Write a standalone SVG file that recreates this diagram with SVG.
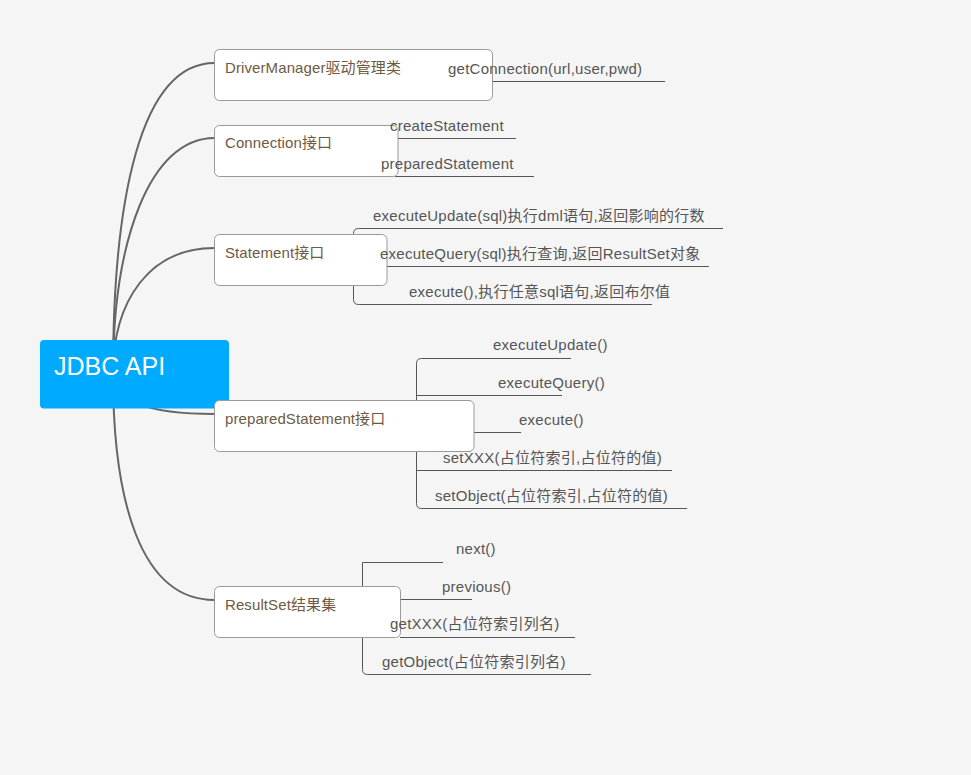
<svg xmlns="http://www.w3.org/2000/svg" width="971" height="775" viewBox="0 0 971 775">
<style>
.bg{fill:#f5f5f5}
.curve{fill:none;stroke:#666;stroke-width:2}
.line{fill:none;stroke:#555;stroke-width:1}
.box{fill:#fff;stroke:#9a9a9a;stroke-width:1}
.ntext{font-family:"Liberation Sans","Noto Sans CJK SC",sans-serif;font-size:15px;fill:#6e5a44;letter-spacing:0.1px}
.ctext{font-family:"Liberation Sans","Noto Sans CJK SC",sans-serif;font-size:15px;fill:#555;letter-spacing:0.25px}
.rtext{font-family:"Liberation Sans","Noto Sans CJK SC",sans-serif;font-size:25px;fill:#fff}
</style>
<rect class="bg" x="0" y="0" width="971" height="775"/>
<g id="connectors">
<path class="curve" d="M113 374 C113 200 140 63 214.5 63"/>
<path class="curve" d="M113 374 C113 240 150 138 214.5 138"/>
<path class="curve" d="M113 374 C113 300 150 248 214.5 248"/>
<path class="curve" d="M113 374 Q113 414 214.5 414"/>
<path class="curve" d="M113 374 C113 500 140 600 214.5 600"/>
<path class="line" d="M492.5 81.5 H665"/>
<path class="line" d="M398 138.5 H516"/>
<path class="line" d="M395 176.5 H534"/>
<path class="line" d="M723 228.5 H358.5 Q353.5 228.5 353.5 233.5 V299.5 Q353.5 304.5 358.5 304.5 H652"/>
<path class="line" d="M387 266.5 H709"/>
<path class="line" d="M571 358.5 H421.5 Q416.5 358.5 416.5 363.5 V503.5 Q416.5 508.5 421.5 508.5 H687"/>
<path class="line" d="M416.5 395.5 H562"/>
<path class="line" d="M474 432.5 H521"/>
<path class="line" d="M416.5 470.5 H672"/>
<path class="line" d="M443 562.5 H362.5 V669.5 Q362.5 674.5 367.5 674.5 H591"/>
<path class="line" d="M400 599.5 H472"/>
<path class="line" d="M400 637.5 H575"/>
</g>
<g id="root">
<rect x="40" y="340" width="189" height="68.5" rx="4" fill="#00aaff"/>
<text class="rtext" x="54" y="375">JDBC API</text>
</g>
<g id="node-driver">
<rect class="box" x="214.5" y="49.5" width="278" height="51" rx="5"/>
<text class="ntext" x="225" y="73">DriverManager驱动管理类</text>
</g>
<g id="node-connection">
<rect class="box" x="214.5" y="125.5" width="183.5" height="51" rx="5"/>
<text class="ntext" x="225" y="148">Connection接口</text>
</g>
<g id="node-statement">
<rect class="box" x="214.5" y="234.5" width="172.5" height="51" rx="5"/>
<text class="ntext" x="225" y="258">Statement接口</text>
</g>
<g id="node-prepared">
<rect class="box" x="214.5" y="400.5" width="259.5" height="51" rx="5"/>
<text class="ntext" x="225" y="424">preparedStatement接口</text>
</g>
<g id="node-resultset">
<rect class="box" x="214.5" y="586.5" width="186" height="51" rx="5"/>
<text class="ntext" x="225" y="610">ResultSet结果集</text>
</g>
<g id="leaf-getConnection"><text class="ctext" x="448" y="74">getConnection(url,user,pwd)</text></g>
<g id="leaf-createStatement"><text class="ctext" x="390" y="131">createStatement</text></g>
<g id="leaf-preparedStatement"><text class="ctext" x="381" y="169">preparedStatement</text></g>
<g id="leaf-executeUpdate-sql"><text class="ctext" x="373" y="221">executeUpdate(sql)执行dml语句,返回影响的行数</text></g>
<g id="leaf-executeQuery-sql"><text class="ctext" x="380" y="259">executeQuery(sql)执行查询,返回ResultSet对象</text></g>
<g id="leaf-execute-sql"><text class="ctext" x="409" y="297">execute(),执行任意sql语句,返回布尔值</text></g>
<g id="leaf-executeUpdate"><text class="ctext" x="493" y="350">executeUpdate()</text></g>
<g id="leaf-executeQuery"><text class="ctext" x="498" y="388">executeQuery()</text></g>
<g id="leaf-execute"><text class="ctext" x="519" y="425">execute()</text></g>
<g id="leaf-setXXX"><text class="ctext" x="443" y="463">setXXX(占位符索引,占位符的值)</text></g>
<g id="leaf-setObject"><text class="ctext" x="435" y="501">setObject(占位符索引,占位符的值)</text></g>
<g id="leaf-next"><text class="ctext" x="456" y="554">next()</text></g>
<g id="leaf-previous"><text class="ctext" x="442" y="592">previous()</text></g>
<g id="leaf-getXXX"><text class="ctext" x="390" y="629">getXXX(占位符索引列名)</text></g>
<g id="leaf-getObject"><text class="ctext" x="382" y="667">getObject(占位符索引列名)</text></g>
</svg>
